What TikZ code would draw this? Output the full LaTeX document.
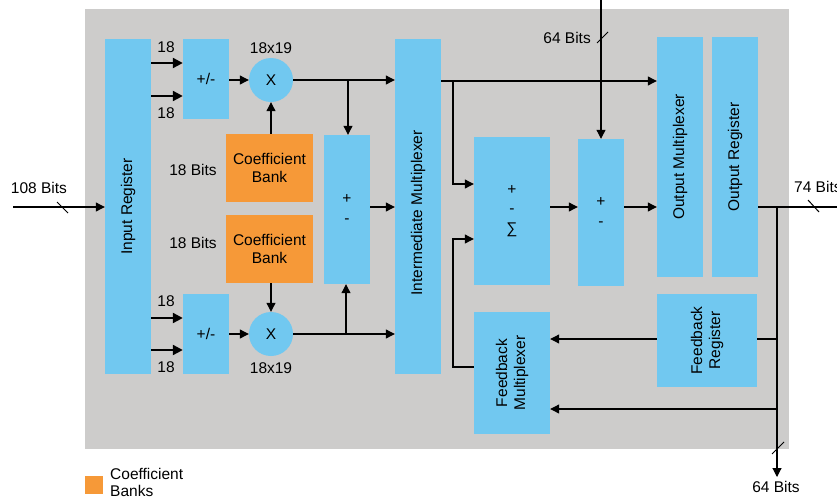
\documentclass[tikz,border=0pt]{standalone}
\usepackage{fontspec}
\setmainfont{Liberation Sans}
\usetikzlibrary{arrows.meta}
\definecolor{bggray}{RGB}{205,204,203}
\definecolor{blkblue}{RGB}{113,200,240}
\definecolor{coeforange}{RGB}{246,153,56}
\begin{document}
\begin{tikzpicture}[x=1pt,y=-1pt,
  txt/.style={font=\fontsize{15.5}{18}\selectfont, inner sep=0pt, text=black},
  blockbox/.style={txt, fill=blkblue, draw=none, align=center},
  coefbox/.style={txt, fill=coeforange, draw=none, align=center, minimum width=87pt, minimum height=68pt},
  mulcirc/.style={txt, circle, fill=blkblue, draw=none, minimum size=44pt},
  conn/.style={line width=1.1pt, draw=black},
  arr/.style={conn, -{Triangle[length=9pt,width=9pt]}},
  thickarr/.style={line width=2.2pt, -{Triangle[length=10pt,width=10pt]}},
  slashmark/.style={line width=1pt}
]
\useasboundingbox (0,0) rectangle (837,498);
\fill[bggray] (85,9) rectangle (789,449);

% blocks
\node[blockbox, minimum width=335pt, minimum height=46pt, rotate=90] (inreg) at (128,206.5) {Input Register};
\node[blockbox, minimum width=46pt, minimum height=80pt] (pmA) at (206,79) {+/-};
\node[blockbox, minimum width=46pt, minimum height=80pt] (pmB) at (206,334) {+/-};
\node[mulcirc] (mulA) at (271,80) {X};
\node[mulcirc] (mulB) at (271,334) {X};
\node[coefbox] (coefA) at (269.5,168) {Coefficient\\Bank};
\node[coefbox] (coefB) at (269.5,249) {Coefficient\\Bank};
\node[blockbox, minimum width=46pt, minimum height=149pt, font=\fontsize{15.5}{20}\selectfont] (addA) at (347,209.5) {+\\-};
\node[blockbox, minimum width=335pt, minimum height=46pt, rotate=90] (imux) at (418,206.5) {\raisebox{0pt}{\hspace*{-13pt}Intermediate Multiplexer}};
\node[blockbox, minimum width=76pt, minimum height=148pt, font=\fontsize{15.5}{19.5}\selectfont] (sig) at (512,211) {+\\-\\\symbol{"2211}};
\node[blockbox, minimum width=46pt, minimum height=147pt, font=\fontsize{15.5}{20}\selectfont] (addB) at (601,212.5) {+\\-};
\node[blockbox, minimum width=240pt, minimum height=46pt, rotate=90] (omux) at (680,157) {Output Multiplexer};
\node[blockbox, minimum width=240pt, minimum height=46pt, rotate=90] (oreg) at (735,157) {Output Register};
\node[blockbox, minimum width=93pt, minimum height=100pt, rotate=90] (fbreg) at (707,340.5) {Feedback\\Register};
\node[blockbox, minimum width=122pt, minimum height=76pt, rotate=90] (fbmux) at (512,373) {Feedback\\Multiplexer};

% labels
\node[txt] (l18a) at (166,47) {18};
\node[txt] (l18b) at (166,113) {18};
\node[txt] (l18c) at (166,301) {18};
\node[txt] (l18d) at (166,367) {18};
\node[txt] (lmA) at (271,48) {18x19};
\node[txt] (lmB) at (271,368) {18x19};
\node[txt] (lcA) at (193,170) {18 Bits};
\node[txt] (lcB) at (193,243) {18 Bits};
\node[txt] (l108) at (39,188) {108 Bits};
\node[txt, anchor=east] (l64t) at (591,38) {64 Bits};
\node[txt, anchor=west] (l74) at (794,187) {74 Bits};
\node[txt] (l64b) at (776,487) {64 Bits};

% legend
\node[fill=coeforange, minimum size=18pt, inner sep=0pt] (legsq) at (94,485) {};
\node[txt, anchor=north west, align=left, font=\fontsize{15.5}{17}\selectfont] (legtxt) at (110,468) {Coefficient\\Banks};

% coordinates
\coordinate (in108) at (13,207);
\coordinate (top64) at (601,0);
\coordinate (brA) at (348,80);
\coordinate (brB) at (346,334);
\coordinate (brI) at (453,81);
\coordinate (brS) at (453,239);
\coordinate (fbL) at (453,367);
\coordinate (out74) at (837,207);
\coordinate (vtop) at (777,207);
\coordinate (vbot) at (777,477);
\coordinate (vfb1) at (777,339);
\coordinate (vfb2) at (777,409);

% connectors
\draw[arr] (in108) -- (in108 -| inreg.north);
\draw[slashmark] (57,202) -- (68,213);

\draw[thickarr] (inreg.south |- 0,63) -- (pmA.west |- 0,63);
\draw[thickarr] (inreg.south |- 0,96) -- (pmA.west |- 0,96);
\draw[thickarr] (inreg.south |- 0,318) -- (pmB.west |- 0,318);
\draw[thickarr] (inreg.south |- 0,350) -- (pmB.west |- 0,350);

\draw[arr] (pmA.east |- mulA) -- (mulA.west);
\draw[arr] (pmB.east |- mulB) -- (mulB.west);
\draw[arr] (coefA.north -| mulA) -- (mulA.south);
\draw[arr] (coefB.south -| mulB) -- (mulB.north);

\draw[arr] (mulA.east) -- (mulA -| imux.north);
\draw[arr] (brA) -- (brA |- addA.north);
\draw[arr] (mulB.east) -- (mulB -| imux.north);
\draw[arr] (brB) -- (brB |- addA.south);
\draw[arr] (addA.east |- 0,207) -- (imux.north |- 0,207);

\draw[arr] (imux.south |- brI) -- (brI -| omux.north);
\draw[arr] (brI) -- (453,184) -- (sig.west |- 0,184);
\draw[arr] (fbmux.north |- fbL) -- (fbL) -- (brS) -- (sig.west |- brS);
\draw[arr] (sig.east |- 0,207) -- (addB.west |- 0,207);
\draw[arr] (addB.east |- 0,207) -- (omux.north |- 0,207);
\draw[arr] (top64) -- (addB.north);
\draw[slashmark] (597,43) -- (608,32);

\draw[conn] (oreg.south |- out74) -- (out74);
\draw[slashmark] (808,200) -- (819,212);
\draw[arr] (vtop) -- (vbot);
\draw[slashmark] (772,454) -- (784,442);
\draw[conn] (vfb1) -- (vfb1 -| fbreg.south);
\draw[arr] (fbreg.north |- vfb1) -- (fbmux.south |- vfb1);
\draw[arr] (vfb2) -- (fbmux.south |- vfb2);
\end{tikzpicture}
\end{document}
